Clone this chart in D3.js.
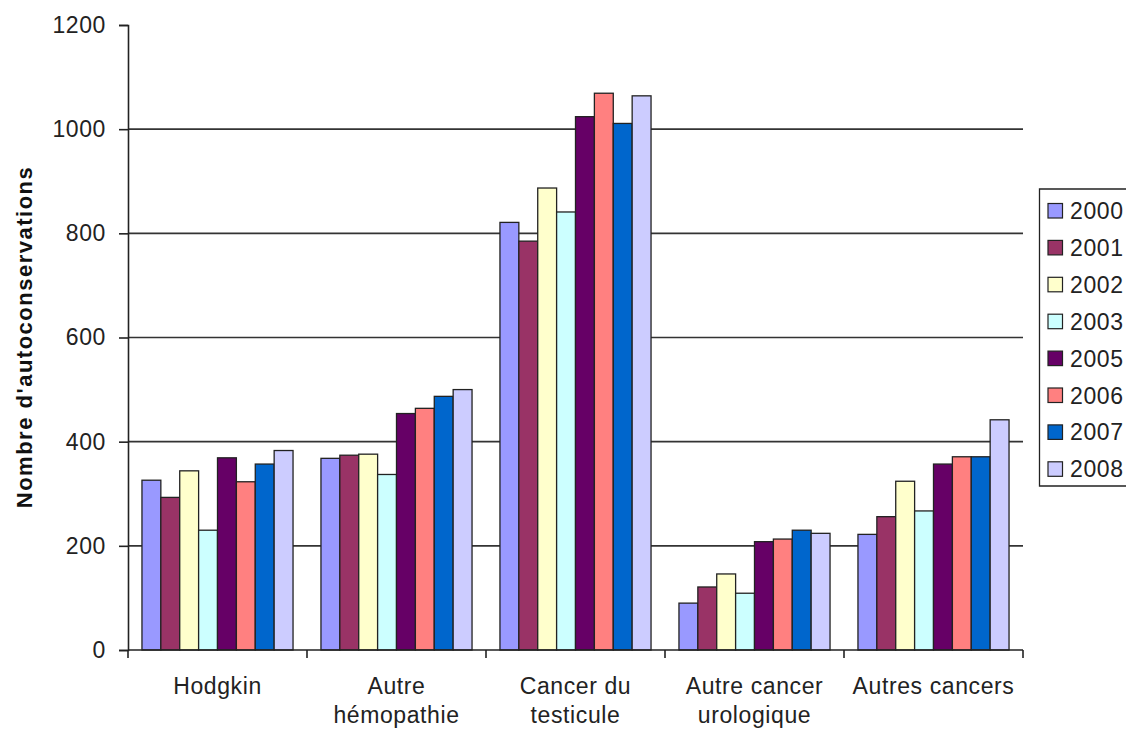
<!DOCTYPE html>
<html>
<head>
<meta charset="utf-8">
<script src="https://cdn.jsdelivr.net/npm/d3@7"></script>
<style>
  html, body { margin: 0; padding: 0; background: #fff; overflow: hidden; }
  svg { display: block; font-family: "Liberation Sans", Arial, sans-serif; }
</style>
</head>
<body>
<svg id="chart" width="1126" height="729"></svg>
<script>
// Autoconservations par type de cancer et par année
const categories = [
  ["Hodgkin"],
  ["Autre", "hémopathie"],
  ["Cancer du", "testicule"],
  ["Autre cancer", "urologique"],
  ["Autres cancers"]
];
const years = ["2000", "2001", "2002", "2003", "2005", "2006", "2007", "2008"];
const colors = ["#9999FF", "#993366", "#FFFFCC", "#CCFFFF", "#660066", "#FF8080", "#0066CC", "#CCCCFF"];

// one array per category, values in year order
const hodgkin        = [326, 293, 344, 230, 369, 323, 357, 383];
const autreHemo      = [368, 374, 376, 337, 454, 464, 487, 500];
const testicule      = [821, 785, 887, 841, 1024, 1069, 1011, 1064];
const autreUro       = [90, 121, 146, 109, 208, 213, 230, 224];
const autresCancers  = [222, 256, 324, 267, 357, 371, 371, 442];
const yTicks = [0, 200, 400, 600, 800, 1000, 1200];
const yTitle = "Nombre d'autoconservations";

const series = [hodgkin, autreHemo, testicule, autreUro, autresCancers];
const catKeys = categories.map(c => c.join(" "));

const svg = d3.select("#chart");
const plotL = 128, plotR = 1023, plotT = 25, plotB = 650;
const labelSize = 23, labelSpacing = 0.6;

const x0 = d3.scaleBand().domain(catKeys).range([plotL, plotR])
  .paddingInner(0.156).paddingOuter(0.078);
const x1 = d3.scaleBand().domain(years).range([0, x0.bandwidth()]).padding(0);
const y = d3.scaleLinear().domain([0, 1200]).range([plotB, plotT]);

// horizontal gridlines
svg.append("g").selectAll("line")
  .data(yTicks.filter(d => d > 0 && d < 1200))
  .join("line")
  .attr("x1", plotL).attr("x2", plotR)
  .attr("y1", d => y(d)).attr("y2", d => y(d))
  .attr("stroke", "#333").attr("stroke-width", 1.6);

// bars
const groups = svg.append("g").selectAll("g")
  .data(series)
  .join("g")
  .attr("transform", (d, i) => `translate(${x0(catKeys[i])},0)`);
groups.selectAll("rect")
  .data(d => d.map((v, j) => ({ v, year: years[j], color: colors[j] })))
  .join("rect")
  .attr("x", d => x1(d.year))
  .attr("y", d => y(d.v))
  .attr("width", x1.bandwidth())
  .attr("height", d => y(0) - y(d.v))
  .attr("fill", d => d.color)
  .attr("stroke", "#222")
  .attr("stroke-width", 1.3);

// y axis
const yAxis = d3.axisLeft(y).tickValues(yTicks).tickFormat(d3.format("d"))
  .tickSize(9).tickPadding(13);
const gy = svg.append("g").attr("transform", `translate(${plotL},0)`).call(yAxis);
gy.select(".domain").attr("stroke", "#222").attr("stroke-width", 1.6);
gy.selectAll(".tick line").attr("stroke", "#222").attr("stroke-width", 1.6);
gy.selectAll(".tick text")
  .attr("font-size", labelSize).attr("letter-spacing", labelSpacing).attr("fill", "#222")
  .attr("font-family", "Liberation Sans, Arial, sans-serif");

// x axis line with boundary ticks
const boundaries = catKeys.map(k => x0(k) - x0.step() * x0.paddingInner() / 2);
boundaries[0] = plotL;
boundaries.push(plotR);
svg.append("line")
  .attr("x1", plotL).attr("x2", plotR).attr("y1", plotB).attr("y2", plotB)
  .attr("stroke", "#222").attr("stroke-width", 1.6);
svg.append("g").selectAll("line").data(boundaries).join("line")
  .attr("x1", d => d).attr("x2", d => d)
  .attr("y1", plotB).attr("y2", plotB + 8)
  .attr("stroke", "#222").attr("stroke-width", 1.6);

// category labels
const labels = svg.append("g").selectAll("text")
  .data(categories)
  .join("text")
  .attr("x", (d, i) => x0(catKeys[i]) + x0.bandwidth() / 2)
  .attr("y", 694)
  .attr("text-anchor", "middle")
  .attr("font-size", labelSize).attr("letter-spacing", labelSpacing).attr("fill", "#222");
labels.selectAll("tspan")
  .data(d => d)
  .join("tspan")
  .attr("x", function () { return d3.select(this.parentNode).attr("x"); })
  .attr("dy", (d, i) => i === 0 ? 0 : 29)
  .text(d => d);

// y axis title
svg.append("text")
  .attr("transform", "translate(32,337) rotate(-90)")
  .attr("text-anchor", "middle")
  .attr("font-size", 22).attr("font-weight", "bold")
  .attr("letter-spacing", 1.5).attr("fill", "#111")
  .text(yTitle);

// legend: the frame runs past the right edge of the page
const legend = svg.append("g");
const lgX = 1039.5, lgY = 189, lgH = 297, lgW = 140;
legend.append("path")
  .attr("d", `M${lgX + lgW},${lgY}H${lgX}V${lgY + lgH}H${lgX + lgW}`)
  .attr("fill", "#fff").attr("stroke", "#222").attr("stroke-width", 1.3);
const items = legend.selectAll("g.item")
  .data(years)
  .join("g").attr("class", "item")
  .attr("transform", (d, i) => `translate(1048,${203.5 + i * 36.9})`);
items.append("rect")
  .attr("width", 14.5).attr("height", 14.5)
  .attr("fill", (d, i) => colors[i])
  .attr("stroke", "#222").attr("stroke-width", 1.2);
items.append("text")
  .attr("x", 22).attr("y", 15.5)
  .attr("font-size", labelSize).attr("letter-spacing", labelSpacing).attr("fill", "#222")
  .text(d => d);
</script>
</body>
</html>
